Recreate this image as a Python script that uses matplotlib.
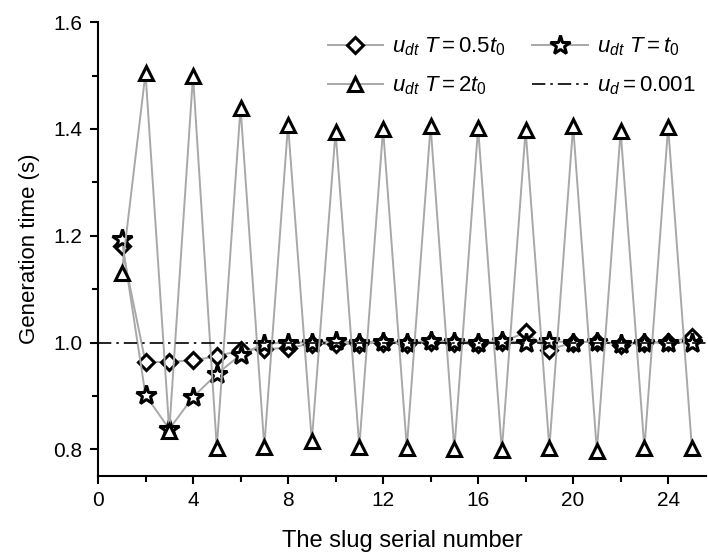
import numpy as np
import matplotlib
matplotlib.use("Agg")
import matplotlib.pyplot as plt
from matplotlib.ticker import MultipleLocator

plt.rcParams['font.family'] = ['Liberation Sans', 'DejaVu Sans']
plt.rcParams['mathtext.fontset'] = 'custom'
plt.rcParams['mathtext.rm'] = 'Liberation Sans'
plt.rcParams['mathtext.it'] = 'Liberation Sans:italic'

# slug serial number
slug = list(range(1, 26))

# generation time (s)
t_half = [1.180, 0.963, 0.964, 0.967, 0.974, 0.986, 0.988, 0.990, 0.998, 0.997,
          0.998, 1.000, 0.998, 1.001, 1.000, 0.997, 1.001, 1.019, 0.987, 1.000,
          1.002, 0.996, 1.000, 1.001, 1.010]
t_one = [1.194, 0.902, 0.838, 0.898, 0.941, 0.977, 0.998, 1.000, 1.000, 1.003,
         1.000, 1.002, 1.000, 1.003, 1.002, 1.000, 1.003, 1.000, 1.003, 1.000,
         1.002, 0.998, 1.000, 1.000, 1.000]
t_two = [1.131, 1.505, 0.835, 1.500, 0.803, 1.440, 0.805, 1.408, 0.815, 1.395,
         0.805, 1.400, 0.803, 1.406, 0.800, 1.402, 0.798, 1.398, 0.803, 1.406,
         0.797, 1.396, 0.802, 1.404, 0.803]
u_d_level = 1.0

labels = [r'$u_{dt}\ T\mathrm{=0.5}t_{0}$',
          r'$u_{dt}\ T\mathrm{=}t_{0}$',
          r'$u_{dt}\ T\mathrm{=2}t_{0}$',
          r'$u_{d}\mathrm{=0.001}$']

fig = plt.figure(figsize=(7.08, 5.53), dpi=100)
ax = fig.add_axes([0.1384, 0.139, 0.859, 0.821])

line_kw = dict(color='#a8a8a8', lw=1.4, mfc='white', mec='black', mew=2.2)
h1, = ax.plot(slug, t_half, marker='D', ms=8.5, label=labels[0], **line_kw)
h2, = ax.plot(slug, t_one, marker='*', ms=15, label=labels[1], **line_kw)
h3, = ax.plot(slug, t_two, marker='^', ms=10, label=labels[2], **line_kw)
h4 = ax.axhline(u_d_level, color='black', lw=1.2, ls=(0, (8, 3, 1.5, 3)), label=labels[3])

ax.set_xlim(0, 25.6)
ax.set_ylim(0.75, 1.6)
ax.xaxis.set_major_locator(MultipleLocator(4))
ax.xaxis.set_minor_locator(MultipleLocator(2))
ax.yaxis.set_major_locator(MultipleLocator(0.2))
ax.yaxis.set_minor_locator(MultipleLocator(0.1))
ax.yaxis.set_major_formatter(matplotlib.ticker.FormatStrFormatter('%.1f'))

for side in ['top', 'right']:
    ax.spines[side].set_visible(False)
for side in ['left', 'bottom']:
    ax.spines[side].set_linewidth(1.5)
ax.tick_params(which='major', direction='out', length=6, width=1.5, labelsize=15, pad=5)
ax.tick_params(which='minor', direction='out', length=4, width=1.5)

ax.set_xlabel('The slug serial number', fontsize=17, labelpad=14)
ax.set_ylabel('Generation time (s)', fontsize=16, labelpad=10)

# row-major order like the original: (T=0.5, T=t0) / (T=2t0, ud)
ax.legend(handles=[h1, h3, h2, h4], ncol=2, loc='upper right', frameon=False,
          fontsize=16, handlelength=2.5, columnspacing=1.2, handletextpad=0.4,
          labelspacing=0.75, bbox_to_anchor=(1.015, 1.015))

fig.savefig('out.png', dpi=100, facecolor='white')
